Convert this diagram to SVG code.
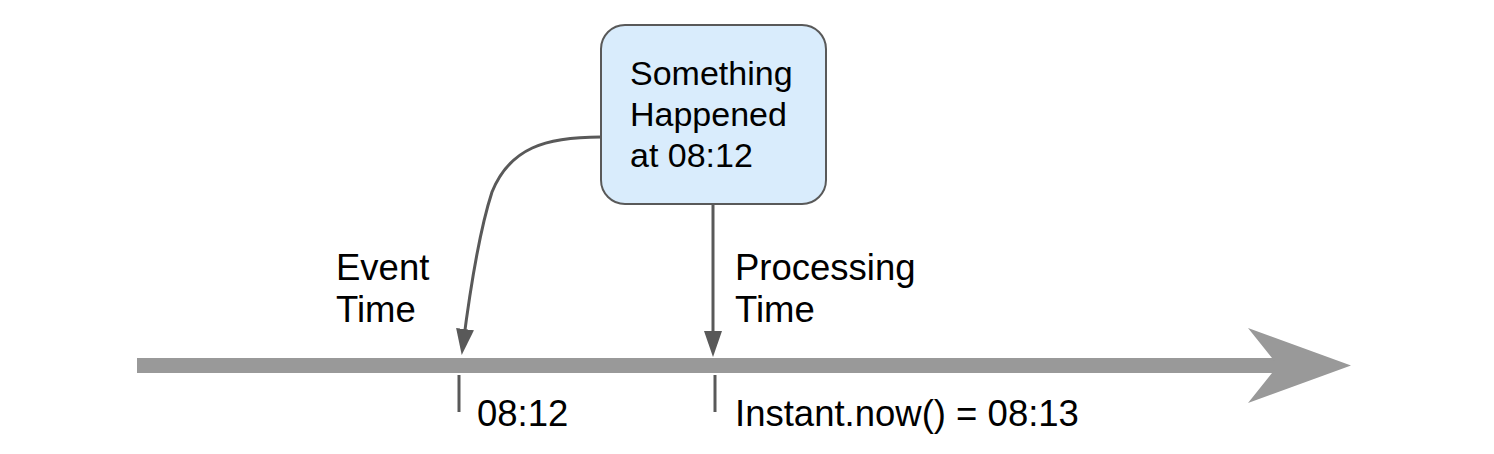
<svg xmlns="http://www.w3.org/2000/svg" width="1494" height="454" viewBox="0 0 1494 454">
<style>
.lbl{font-family:"Liberation Sans",Arial,sans-serif;font-size:36.5px;fill:#000}
.box{font-family:"Liberation Sans",Arial,sans-serif;font-size:34px;fill:#000}
.conn{fill:none;stroke:#595959;stroke-width:3}
.tick{stroke:#595959;stroke-width:3}
</style>
<defs>
<marker id="ah" markerUnits="userSpaceOnUse" markerWidth="26" markerHeight="20" viewBox="0 0 26 20" refX="16" refY="10" orient="auto">
<path d="M0,1 L26,10 L0,19 z" fill="#595959"/>
</marker>
</defs>
<g id="timeline">
<rect x="137" y="358" width="1145" height="15" fill="#999999"/>
<polygon points="1248,328 1351,365.5 1248,403 1278,365.5" fill="#999999"/>
</g>
<g id="ticks">
<line class="tick" x1="459" y1="375" x2="459" y2="412"/>
<line class="tick" x1="715" y1="375" x2="715" y2="412"/>
</g>
<g id="event-node">
<rect x="601" y="25" width="225" height="179" rx="24" ry="24" fill="#d9ecfc" stroke="#595959" stroke-width="2"/>
<text class="box" x="630" y="85">Something</text>
<text class="box" x="630" y="126">Happened</text>
<text class="box" x="630" y="167">at 08:12</text>
</g>
<g id="connectors">
<path class="conn" d="M601,137 C545,137 510,148 492,192 C479,232 470,290 463,345" marker-end="url(#ah)"/>
<path class="conn" d="M713,205 L713,347" marker-end="url(#ah)"/>
</g>
<g id="labels">
<text class="lbl" x="336" y="280">Event</text>
<text class="lbl" x="336" y="322">Time</text>
<text class="lbl" x="735" y="280">Processing</text>
<text class="lbl" x="735" y="322">Time</text>
<text class="lbl" x="477" y="426">08:12</text>
<text class="lbl" x="735" y="426">Instant.now() = 08:13</text>
</g>
</svg>
